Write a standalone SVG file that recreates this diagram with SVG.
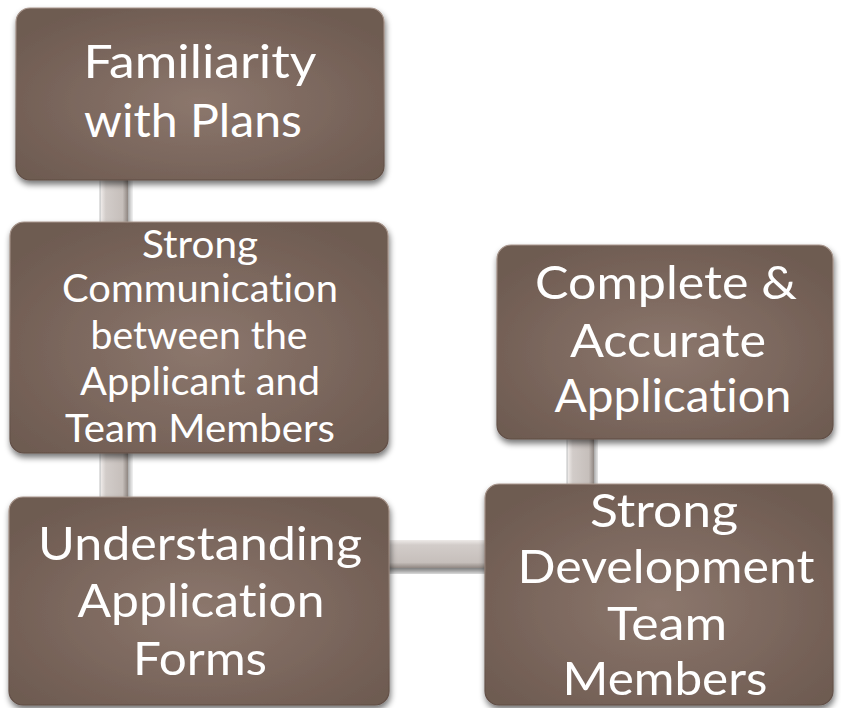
<svg xmlns="http://www.w3.org/2000/svg" width="841" height="708" viewBox="0 0 841 708">
  <defs>
    <radialGradient id="boxFill" cx="0.5" cy="0.55" r="0.62">
      <stop offset="0" stop-color="#8c776d"/>
      <stop offset="1" stop-color="#6e5b51"/>
    </radialGradient>
    <linearGradient id="barV" x1="0" y1="0" x2="1" y2="0">
      <stop offset="0" stop-color="#eeeae8"/>
      <stop offset="0.18" stop-color="#d2ccc9"/>
      <stop offset="0.8" stop-color="#c6bfbb"/>
      <stop offset="1" stop-color="#8f8681"/>
    </linearGradient>
    <linearGradient id="barH" x1="0" y1="0" x2="0" y2="1">
      <stop offset="0" stop-color="#eeeae8"/>
      <stop offset="0.18" stop-color="#d2ccc9"/>
      <stop offset="0.8" stop-color="#c6bfbb"/>
      <stop offset="1" stop-color="#8f8681"/>
    </linearGradient>
    <linearGradient id="rim" x1="0" y1="0" x2="0" y2="1">
      <stop offset="0" stop-color="#a8968c"/>
      <stop offset="1" stop-color="#5e4c43"/>
    </linearGradient>
    <filter id="shadow" x="-10%" y="-10%" width="125%" height="130%">
      <feGaussianBlur in="SourceAlpha" stdDeviation="3"/>
      <feOffset dx="1" dy="4" result="b"/>
      <feComponentTransfer><feFuncA type="linear" slope="0.55"/></feComponentTransfer>
      <feMerge><feMergeNode/><feMergeNode in="SourceGraphic"/></feMerge>
    </filter>
  </defs>
  <style>
    .box { fill: url(#boxFill); stroke: url(#rim); stroke-width: 1.2; filter: url(#shadow); }
    .bar { filter: url(#shadow); }
    .lbl { font-family: "Lato", "Open Sans", "Liberation Sans", sans-serif; font-variant-ligatures: none; font-feature-settings: "liga" 0, "clig" 0; fill: #ffffff; text-anchor: middle; }
    .big { font-size: 47px; }
    .mid { font-size: 38px; }
  </style>
  <rect width="841" height="708" fill="#ffffff"/>

  <!-- connectors -->
  <g id="connectors">
    <rect class="bar" x="101" y="175" width="27" height="52" fill="url(#barV)"/>
    <rect class="bar" x="101" y="448" width="27" height="54" fill="url(#barV)"/>
    <rect class="bar" x="384" y="540" width="106" height="28" fill="url(#barH)"/>
    <rect class="bar" x="568" y="434" width="26" height="56" fill="url(#barV)"/>
  </g>

  <!-- Familiarity with Plans -->
  <g id="node-familiarity">
    <rect class="box" x="16" y="8" width="368" height="172" rx="14"/>
    <text class="lbl big" x="200" y="78" textLength="233" lengthAdjust="spacingAndGlyphs">Familiarity</text>
    <text class="lbl big" x="193" y="137" textLength="218" lengthAdjust="spacingAndGlyphs">with Plans</text>
  </g>

  <!-- Strong Communication -->
  <g id="node-communication">
    <rect class="box" x="10" y="222" width="378" height="231" rx="14"/>
    <text class="lbl mid" x="200" y="258" textLength="116" lengthAdjust="spacingAndGlyphs">Strong</text>
    <text class="lbl mid" x="200" y="302" textLength="276" lengthAdjust="spacingAndGlyphs">Communication</text>
    <text class="lbl mid" x="199" y="349" textLength="217" lengthAdjust="spacingAndGlyphs">between the</text>
    <text class="lbl mid" x="200" y="395" textLength="240" lengthAdjust="spacingAndGlyphs">Applicant and</text>
    <text class="lbl mid" x="200" y="442" textLength="270" lengthAdjust="spacingAndGlyphs">Team Members</text>
  </g>

  <!-- Understanding Application Forms -->
  <g id="node-understanding">
    <rect class="box" x="9" y="497" width="380" height="208" rx="14"/>
    <text class="lbl big" x="200" y="560" textLength="324" lengthAdjust="spacingAndGlyphs">Understanding</text>
    <text class="lbl big" x="201" y="617" textLength="247" lengthAdjust="spacingAndGlyphs">Application</text>
    <text class="lbl big" x="200" y="675" textLength="134" lengthAdjust="spacingAndGlyphs">Forms</text>
  </g>

  <!-- Complete & Accurate Application -->
  <g id="node-complete">
    <rect class="box" x="497" y="245" width="336" height="194" rx="14"/>
    <text class="lbl big" x="666" y="299" textLength="262" lengthAdjust="spacingAndGlyphs">Complete &amp;</text>
    <text class="lbl big" x="668" y="357" textLength="196" lengthAdjust="spacingAndGlyphs">Accurate</text>
    <text class="lbl big" x="673" y="412" textLength="237" lengthAdjust="spacingAndGlyphs">Application</text>
  </g>

  <!-- Strong Development Team Members -->
  <g id="node-development">
    <rect class="box" x="485" y="484" width="348" height="221" rx="14"/>
    <text class="lbl big" x="664" y="527" textLength="148" lengthAdjust="spacingAndGlyphs">Strong</text>
    <text class="lbl big" x="666" y="583" textLength="297" lengthAdjust="spacingAndGlyphs">Development</text>
    <text class="lbl big" x="667" y="640" textLength="120" lengthAdjust="spacingAndGlyphs">Team</text>
    <text class="lbl big" x="665" y="695" textLength="205" lengthAdjust="spacingAndGlyphs">Members</text>
  </g>
</svg>
